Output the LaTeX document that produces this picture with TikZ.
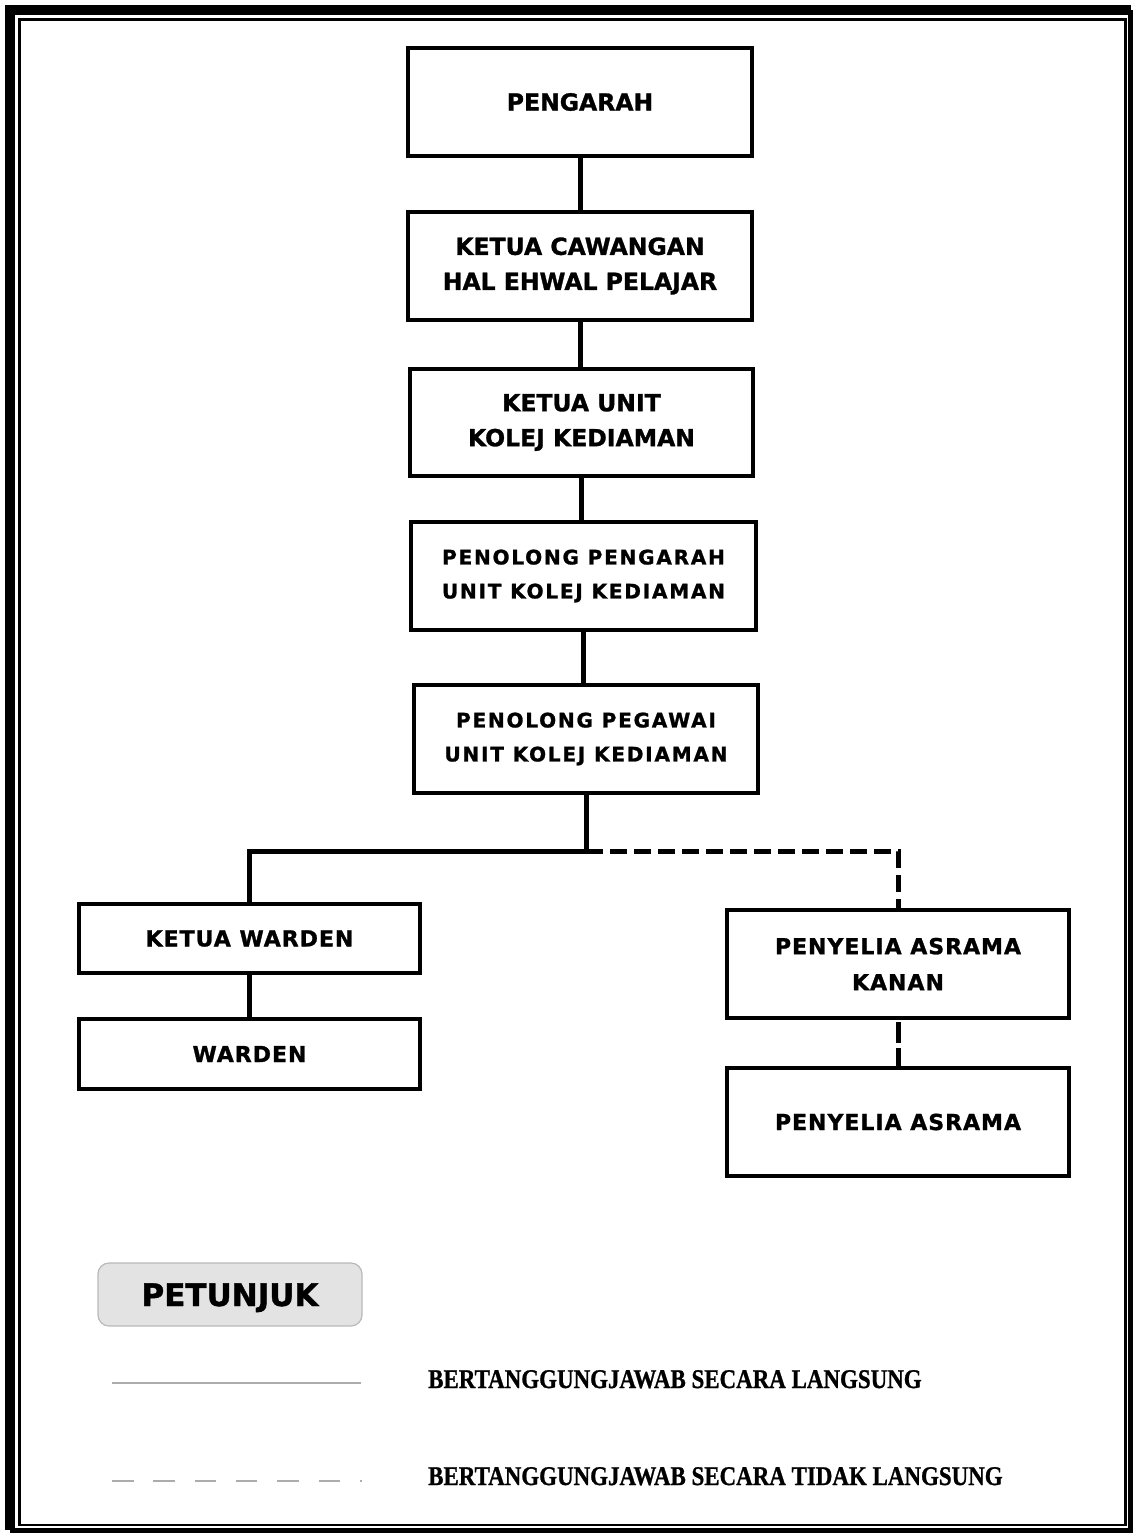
\documentclass[tikz,border=0pt]{standalone}
\usepackage{fontspec}
\usepackage{graphicx}
\newfontfamily\boxfont{DejaVu Sans}[BoldFeatures={FakeBold=1.2}]
\newfontfamily\boxfontls{DejaVu Sans}[LetterSpace=9, BoldFeatures={FakeBold=1.2}]
\newfontfamily\boxfontlw{DejaVu Sans}[LetterSpace=4.5, BoldFeatures={FakeBold=1.2}]
\newfontfamily\legfont{Liberation Serif}[BoldFeatures={FakeBold=1}]
\tikzset{
  orgbox/.style={draw=black, line width=4.5pt, inner sep=0pt, outer sep=0pt, align=center, fill=white},
  bigtxt/.style={font=\boxfont\bfseries\fontsize{23.5}{35}\selectfont},
  midtxt/.style={font=\boxfontls\bfseries\fontsize{20}{34}\selectfont},
  lowtxt/.style={font=\boxfontlw\bfseries\fontsize{22}{36}\selectfont},
  conn/.style={line width=5pt, draw=black},
  dconn/.style={line width=5pt, draw=black, dash pattern=on 17pt off 7pt},
  legtxt/.style={font=\legfont\bfseries\fontsize{27}{30}\selectfont, inner sep=0pt, anchor=base west},
}
\begin{document}
\begin{tikzpicture}[x=1pt,y=-1pt]
\useasboundingbox (0,0) rectangle (1136,1537);
% page frame
\draw[line width=10pt] (10,1530) -- (10,10) -- (1130.5,10);
\draw[line width=5pt] (1130.5,10) -- (1130.5,1530) -- (10,1530);
\draw[line width=2.5pt] (19.5,19.5) rectangle (1125.5,1525);
% boxes
\node[orgbox, bigtxt, minimum width=344pt, minimum height=108pt] (b1) at (580,102) {PENGARAH};
\node[orgbox, bigtxt, minimum width=344pt, minimum height=108pt] (b2) at (580,266) {KETUA CAWANGAN\\HAL EHWAL PELAJAR};
\node[orgbox, bigtxt, minimum width=343pt, minimum height=107pt] (b3) at (581.5,422.5) {KETUA UNIT\\KOLEJ KEDIAMAN};
\node[orgbox, midtxt, minimum width=345pt, minimum height=108pt] (b4) at (583.5,576) {PENOLONG PENGARAH\\UNIT KOLEJ KEDIAMAN};
\node[orgbox, midtxt, minimum width=344pt, minimum height=108pt] (b5) at (586,739) {PENOLONG PEGAWAI\\UNIT KOLEJ KEDIAMAN};
\node[orgbox, lowtxt, minimum width=341pt, minimum height=69pt] (kw) at (249.5,938.5) {KETUA WARDEN};
\node[orgbox, lowtxt, minimum width=341pt, minimum height=70pt] (wd) at (249.5,1054) {WARDEN};
\node[orgbox, lowtxt, minimum width=342pt, minimum height=108pt] (pk) at (898,964) {PENYELIA ASRAMA\\KANAN};
\node[orgbox, lowtxt, minimum width=342pt, minimum height=108pt] (pa) at (898,1122) {PENYELIA ASRAMA};
% connectors
\draw[conn] (b1.south) -- (b1.south |- b2.north);
\draw[conn] (b2.south) -- (b2.south |- b3.north);
\draw[conn] (b3.south) -- (b3.south |- b4.north);
\draw[conn] (b4.south) -- (b4.south |- b5.north);
\coordinate (j) at (586,851);
\draw[conn] (b5.south) -- (j);
\draw[conn] (j) -| (kw.north);
\draw[conn] (kw.south) -- (wd.north);
\draw[dconn] (j) -| (pk.north);
\draw[line width=5pt, dash pattern=on 21pt off 5pt, dash phase=-4pt] (pk.south) -- (pa.north);
% legend
\node[draw=gray!55, line width=1.2pt, fill=gray!22, rounded corners=11pt, minimum width=264pt, minimum height=63pt, inner sep=0pt,
      font=\boxfont\bfseries\fontsize{31}{31}\selectfont, text height=23pt, text depth=0pt] (pt) at (230,1294.5) {PETUNJUK};
\coordinate (s1) at (112,1383);
\coordinate (s2) at (361,1383);
\draw[gray!65, line width=1.8pt] (s1) -- (s2);
\coordinate (d1) at (112,1481);
\coordinate (d2) at (362,1481);
\draw[gray!65, line width=1.8pt, dash pattern=on 21.5pt off 19.8pt] (d1) -- (d2);
\node[legtxt] (l1) at (428,1388) {\scalebox{0.85}[1]{BERTANGGUNGJAWAB SECARA LANGSUNG}};
\node[legtxt] (l2) at (428,1485) {\scalebox{0.85}[1]{BERTANGGUNGJAWAB SECARA TIDAK LANGSUNG}};
\end{tikzpicture}
\end{document}
